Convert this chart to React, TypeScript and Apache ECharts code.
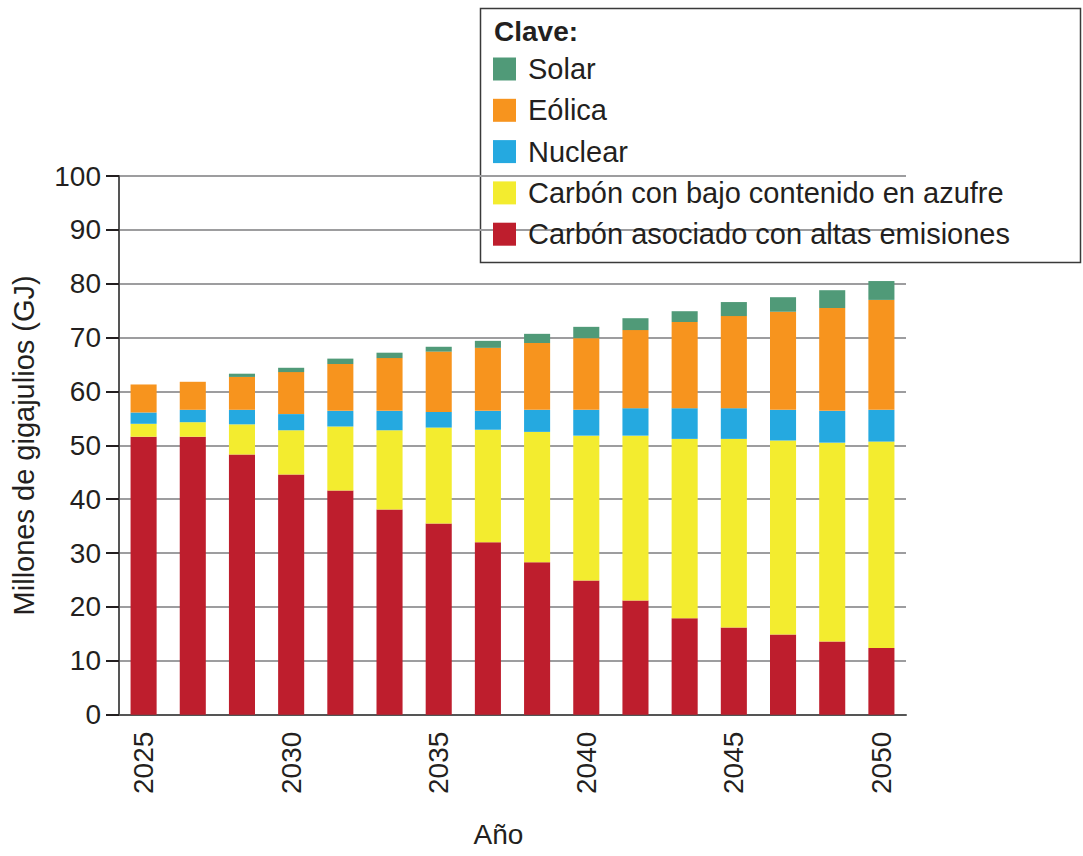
import React, { useEffect, useRef } from "react";
import * as echarts from "echarts";

const years = ["2025", "2027", "2028", "2030", "2032", "2033", "2035", "2037", "2038", "2040", "2042", "2043", "2045", "2047", "2048", "2050"];
const carbonAlto = [51.6, 51.6, 48.3, 44.6, 41.6, 38.1, 35.5, 32.0, 28.3, 24.9, 21.2, 17.9, 16.2, 14.9, 13.6, 12.4];
const carbonBajo = [2.4, 2.7, 5.6, 8.2, 11.9, 14.7, 17.8, 20.9, 24.2, 26.9, 30.6, 33.3, 35.0, 36.0, 36.9, 38.3];
const nuclear = [2.1, 2.3, 2.7, 3.0, 2.9, 3.6, 2.9, 3.5, 4.1, 4.8, 5.1, 5.7, 5.7, 5.7, 5.9, 5.9];
const eolica = [5.2, 5.2, 6.1, 7.8, 8.7, 9.8, 11.2, 11.7, 12.4, 13.3, 14.5, 16.0, 17.1, 18.2, 19.1, 20.4];
const solar = [0, 0, 0.6, 0.8, 1.0, 1.0, 0.9, 1.3, 1.7, 2.1, 2.2, 2.0, 2.6, 2.7, 3.3, 3.5];

const names = {
  solar: "Solar",
  eolica: "Eólica",
  nuclear: "Nuclear",
  bajo: "Carbón con bajo contenido en azufre",
  alto: "Carbón asociado con altas emisiones",
};
const colors = {
  solar: "#509a78",
  eolica: "#f7941e",
  nuclear: "#25a9e0",
  bajo: "#f3ec2f",
  alto: "#be1e2d",
};

const FONT = "Liberation Sans, Arial, Helvetica, sans-serif";
const TXT = "#231f20";

export default function App() {
  const ref = useRef<HTMLDivElement>(null);
  useEffect(() => {
    document.body.style.margin = "0";
    const chart = echarts.init(ref.current!, null, { renderer: "svg" });
    const mk = (name: string, data: number[], color: string) => ({
      name,
      type: "bar",
      stack: "total",
      data,
      barWidth: "53%",
      itemStyle: { color },
    });
    chart.setOption({
      animation: false,
      textStyle: { fontFamily: FONT },
      grid: { left: 119, top: 176, width: 787, height: 538.7, containLabel: false },
      legend: {
        orient: "vertical",
        left: 493,
        top: 54.5,
        padding: 0,
        itemWidth: 23,
        itemHeight: 23,
        itemGap: 12.3,
        icon: "rect",
        textStyle: { fontSize: 29, lineHeight: 28, color: TXT, fontFamily: FONT, padding: [0, 0, 0, 7] },
        data: [names.solar, names.eolica, names.nuclear, names.bajo, names.alto],
      },
      graphic: [
        {
          type: "rect",
          shape: { x: 480.5, y: 8.5, width: 600, height: 254 },
          style: { fill: "#fff", stroke: "#3a3a3a", lineWidth: 1.5 },
          z: -1,
        },
        {
          type: "text",
          x: 494,
          y: 17,
          style: { text: "Clave:", font: `bold 28px ${FONT}`, fill: TXT },
        },
      ],
      xAxis: {
        type: "category",
        data: years,
        name: "Año",
        nameLocation: "middle",
        nameGap: 106,
        nameTextStyle: { fontSize: 28, color: TXT, fontFamily: FONT, padding: [0, 28, 0, 0] },
        axisLine: { lineStyle: { color: "#555", width: 2 } },
        axisTick: { show: false },
        axisLabel: { interval: 2, rotate: 90, fontSize: 28, color: TXT, margin: 17 },
      },
      yAxis: {
        type: "value",
        min: 0,
        max: 100,
        interval: 10,
        name: "Millones de gigajulios (GJ)",
        nameLocation: "middle",
        nameGap: 81,
        nameTextStyle: { fontSize: 29, color: TXT, fontFamily: FONT },
        axisLine: { show: true, lineStyle: { color: "#555", width: 2 } },
        axisTick: { show: true, length: 13, lineStyle: { color: TXT, width: 2 } },
        axisLabel: { fontSize: 28, color: TXT, margin: 18 },
        splitLine: { lineStyle: { color: "#9d9d9f", width: 2 } },
      },
      series: [
        mk(names.alto, carbonAlto, colors.alto),
        mk(names.bajo, carbonBajo, colors.bajo),
        mk(names.nuclear, nuclear, colors.nuclear),
        mk(names.eolica, eolica, colors.eolica),
        mk(names.solar, solar, colors.solar),
      ],
    });
    return () => chart.dispose();
  }, []);
  return <div ref={ref} style={{ width: 1083, height: 856 }} />;
}
